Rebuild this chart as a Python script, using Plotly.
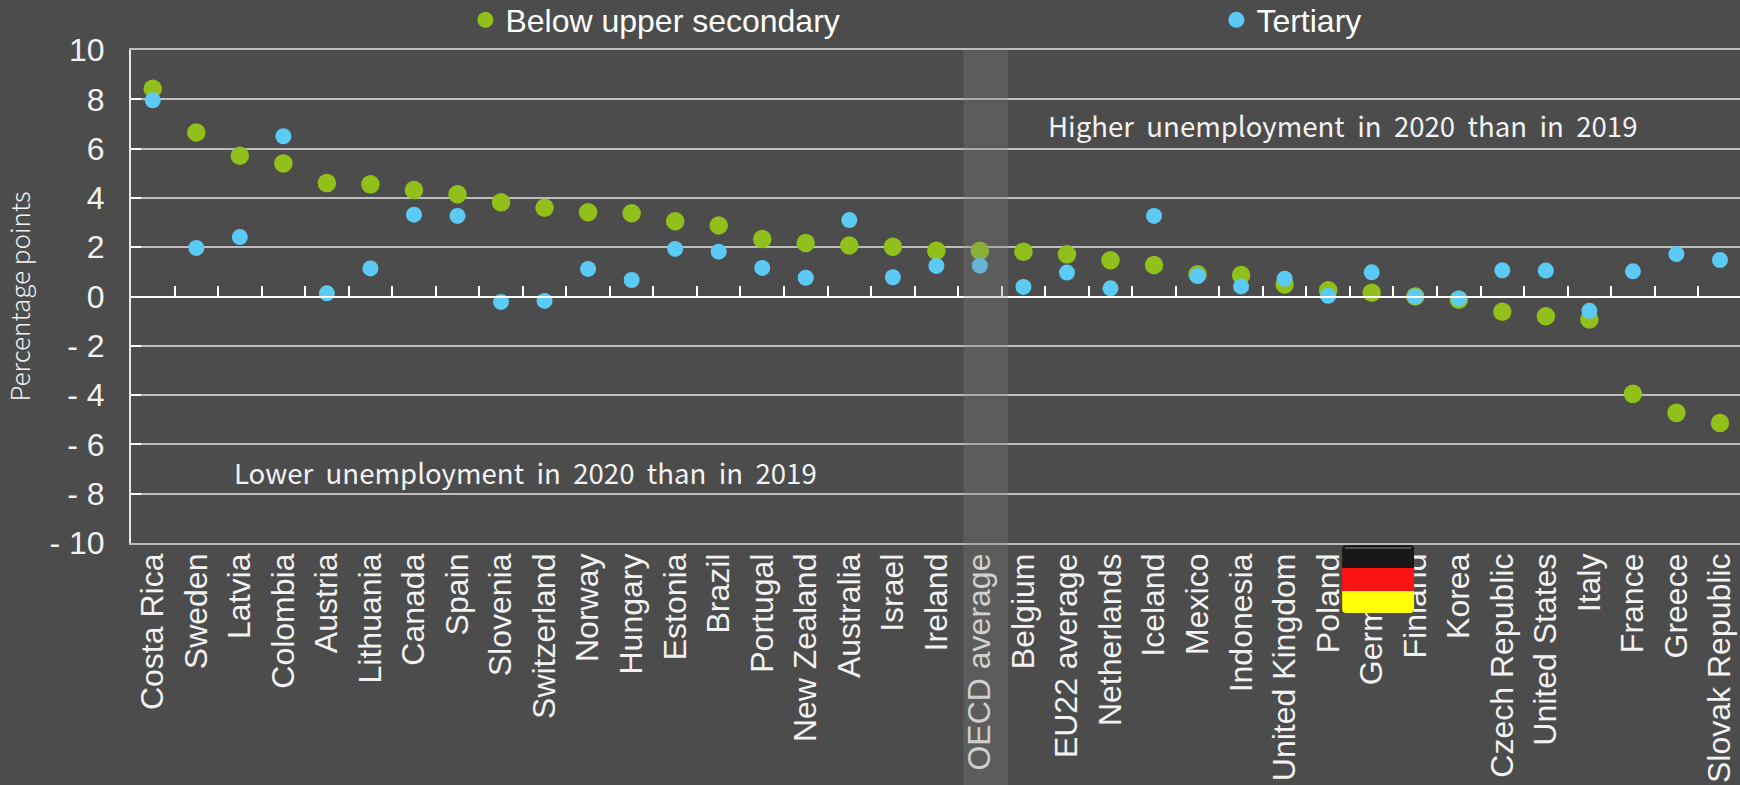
import plotly.graph_objects as go

countries = ["Costa Rica","Sweden","Latvia","Colombia","Austria","Lithuania","Canada","Spain","Slovenia","Switzerland","Norway","Hungary","Estonia","Brazil","Portugal","New Zealand","Australia","Israel","Ireland","OECD average","Belgium","EU22 average","Netherlands","Iceland","Mexico","Indonesia","United Kingdom","Poland","Germany","Finland","Korea","Czech Republic","United States","Italy","France","Greece","Slovak Republic"]
below_upper_secondary = [8.43,6.65,5.71,5.40,4.60,4.55,4.32,4.15,3.82,3.60,3.42,3.38,3.05,2.88,2.33,2.17,2.07,2.02,1.86,1.86,1.82,1.71,1.47,1.28,0.90,0.87,0.49,0.25,0.15,0.0,-0.13,-0.62,-0.80,-0.93,-3.95,-4.72,-5.13]
tertiary = [7.96,1.97,2.41,6.50,0.13,1.14,3.32,3.27,-0.22,-0.18,1.12,0.67,1.93,1.82,1.16,0.76,3.10,0.78,1.24,1.25,0.39,0.97,0.33,3.27,0.83,0.41,0.72,0.03,0.98,0.0,-0.08,1.06,1.05,-0.58,1.02,1.72,1.48]
y_ticks = [10,8,6,4,2,0,-2,-4,-6,-8,-10]
y_labels = ["10","8","6","4","2","0","- 2","- 4","- 6","- 8","- 10"]

W, H = 1740, 785
L, R, T, B = 130.5, 0, 50, 242
BG = "#4c4c4c"
GREEN = "#92c01a"
BLUE = "#5bcaf5"
GRID = "#bdbdbd"
FONT = "Liberation Sans"
KFONT = "Noto Sans CJK KR"
idx = list(range(len(countries)))
XMAX = 36.46
PW = W - L - R
PH = H - T - B
def px(x): return (x - L) / PW
def py(y): return (H - B - y) / PH

def flag_path(x0, x1, y0, y1, rt=0, rb=0):
    X0, X1, Y0, Y1 = px(x0), px(x1), py(y0), py(y1)
    a, b = px(x0 + rt), px(x1 - rt)
    c, d = px(x0 + rb), px(x1 - rb)
    return (f"M {a} {Y0} L {b} {Y0} Q {X1} {Y0} {X1} {py(y0 + rt)} L {X1} {py(y1 - rb)} "
            f"Q {X1} {Y1} {d} {Y1} L {c} {Y1} Q {X0} {Y1} {X0} {py(y1 - rb)} L {X0} {py(y0 + rt)} Q {X0} {Y0} {a} {Y0} Z")

fig = go.Figure()
fig.add_trace(go.Scatter(x=idx, y=below_upper_secondary, mode="markers", name="Below upper secondary",
                         marker=dict(color=GREEN, size=18.5, line=dict(width=0)), hovertext=countries))
fig.add_trace(go.Scatter(x=idx, y=tertiary, mode="markers", name="Tertiary",
                         marker=dict(color=BLUE, size=16, line=dict(width=0)), hovertext=countries))
# empty trace carrying the zero-line axis
fig.add_trace(go.Scatter(x=[0], y=[None], xaxis="x2", mode="markers", showlegend=False, hoverinfo="skip"))

boundaries = [i - 0.5 for i in idx]
fig.update_layout(
    width=W, height=H, autosize=False,
    margin=dict(l=L, r=R, t=T, b=B, autoexpand=False),
    paper_bgcolor=BG, plot_bgcolor=BG,
    font=dict(family=FONT, color="white", size=32),
    xaxis=dict(range=[-0.5, XMAX], tickmode="array", tickvals=idx, ticktext=countries, tickangle=-90,
               showgrid=False, zeroline=False, showline=True, mirror=True, linecolor=GRID, linewidth=1.5,
               ticks="", ticklabelstandoff=-4,
               tickfont=dict(family=FONT, size=32, color="#f2f2f2"), automargin=False),
    xaxis2=dict(range=[-0.5, XMAX], overlaying="x", anchor="free", position=0.5, side="bottom",
                tickmode="array", tickvals=boundaries, showticklabels=False, ticks="inside", ticklen=10,
                tickwidth=1.5, tickcolor="white", showline=True, linecolor="white", linewidth=2,
                showgrid=False, zeroline=False),
    yaxis=dict(range=[-10, 10], tickmode="array", tickvals=y_ticks, ticktext=y_labels,
               showgrid=True, gridcolor=GRID, gridwidth=1.5, zeroline=False,
               showline=True, linecolor="#e6e6e6", linewidth=2, ticks="inside", ticklen=10, tickwidth=1.5,
               tickcolor="white", ticklabelstandoff=18,
               tickfont=dict(family=FONT, size=32, color="#f2f2f2"), automargin=False,
               title=dict(text="Percentage points", font=dict(family=KFONT, size=26, color="#f2f2f2", weight=300), standoff=58)),
    legend=dict(orientation="h", x=px(465), xanchor="left", y=py(20), yanchor="middle",
                entrywidth=706, entrywidthmode="pixels", itemwidth=30, itemsizing="trace",
                bgcolor="rgba(0,0,0,0)", font=dict(family=FONT, size=32, color="white"), traceorder="normal"),
    annotations=[
        dict(text="Higher  unemployment  in  2020  than  in  2019", xref="paper", yref="paper", x=px(1342), y=py(125),
             showarrow=False, font=dict(family=KFONT, size=27.6, color="#f2f2f2"), xanchor="center", yanchor="middle"),
        dict(text="Lower  unemployment  in  2020  than  in  2019", xref="paper", yref="paper", x=px(525), y=py(472),
             showarrow=False, font=dict(family=KFONT, size=27.6, color="#f2f2f2"), xanchor="center", yanchor="middle"),
    ],
    shapes=[
        dict(type="rect", xref="x", yref="paper", x0=18.62, x1=19.65, y0=py(785), y1=1, layer="above",
             fillcolor="rgba(129,129,129,0.3)", line=dict(width=0)),
        dict(type="path", xref="paper", yref="paper", path=flag_path(1342, 1414, 545, 613, 4, 4), layer="above",
             fillcolor="#181818", line=dict(width=0)),
        dict(type="rect", xref="paper", yref="paper", x0=px(1342), x1=px(1414), y0=py(591), y1=py(568), layer="above",
             fillcolor="#fb1414", line=dict(width=0)),
        dict(type="path", xref="paper", yref="paper", path=flag_path(1342, 1414, 591, 613, 0, 4), layer="above",
             fillcolor="#ffff0a", line=dict(width=0)),
        dict(type="line", xref="paper", yref="paper", x0=px(1345), x1=px(1411), y0=py(548), y1=py(548), layer="above",
             line=dict(color="#8a8a8a", width=1)),
    ],
)
fig.write_html("out.html", config={"displayModeBar": False},
               post_script="document.body.style.margin='0';document.body.style.background='#4c4c4c';")
